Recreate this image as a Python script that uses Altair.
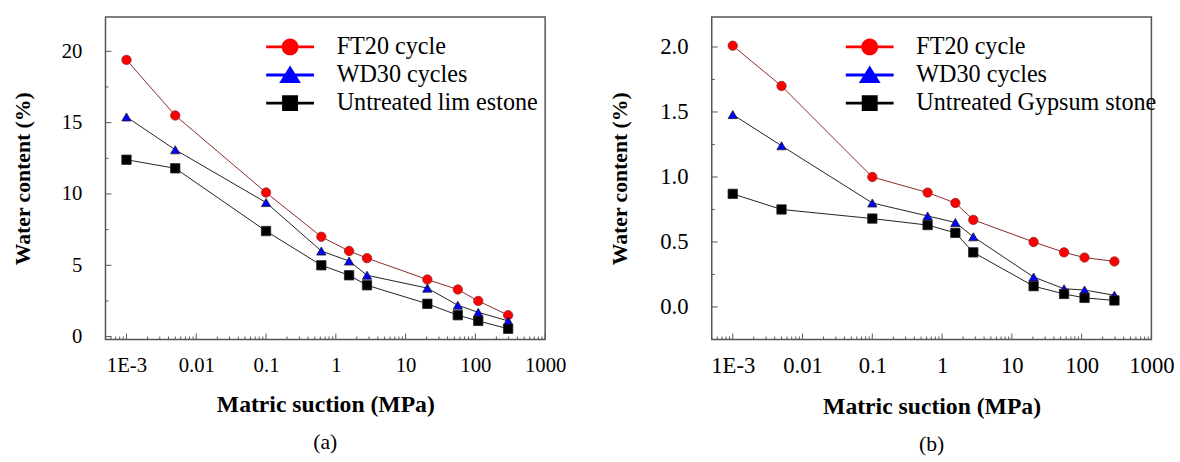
import altair as alt
import pandas as pd

# ---- data ----
SUCTION = [0.001, 0.005, 0.1, 0.62, 1.55, 2.8, 20.5, 56, 110, 295]

LIME_FT = [19.4, 15.5, 10.1, 7.0, 6.0, 5.5, 4.0, 3.3, 2.5, 1.5]
LIME_WD = [15.4, 13.1, 9.4, 6.0, 5.3, 4.3, 3.4, 2.2, 1.7, 1.1]
LIME_UN = [12.4, 11.8, 7.4, 5.0, 4.3, 3.6, 2.3, 1.5, 1.1, 0.55]

GYP_FT = [2.01, 1.70, 1.00, 0.88, 0.80, 0.67, 0.50, 0.42, 0.38, 0.35]
GYP_WD = [1.48, 1.24, 0.80, 0.70, 0.65, 0.54, 0.23, 0.14, 0.13, 0.09]
GYP_UN = [0.87, 0.75, 0.68, 0.63, 0.57, 0.42, 0.16, 0.10, 0.07, 0.05]

LIME_NAMES = ["FT20 cycle", "WD30 cycles", "Untreated lim estone"]
GYP_NAMES = ["FT20 cycle", "WD30 cycles", "Untreated Gypsum stone"]

X_TICKS = [0.001, 0.01, 0.1, 1, 10, 100, 1000]
X_DOMAIN = [5e-4, 1000]
LIME_Y_TICKS = [0, 5, 10, 15, 20]
LIME_Y_MINOR = [2.5, 7.5, 12.5, 17.5]
GYP_Y_TICKS = [0.0, 0.5, 1.0, 1.5, 2.0]
GYP_Y_MINOR = [0.25, 0.75, 1.25, 1.75]

# ---- styles ----
FONT = "Liberation Serif"
LINE_COLORS = ["#8b2a2a", "#222222", "#222222"]
FILL_COLORS = ["#ff0000", "#0000ff", "#000000"]
MARKERS = ["circle", "triangle-up", "square"]
BAR = "M-2.85,-0.17L2.85,-0.17L2.85,0.17L-2.85,0.17Z"
LEGEND_SHAPES = [
    BAR + "M1,0A1,1 0 1,1 -1,0A1,1 0 1,1 1,0Z",
    BAR + "M0,-1.15L1.3,0.95L-1.3,0.95Z",
    BAR + "M-0.95,-0.95L0.95,-0.95L0.95,0.95L-0.95,0.95Z",
]
W, H = 446, 327

minor_x = []
for e in range(-4, 3):
    for m in range(2, 10):
        v = m * 10 ** e
        if X_DOMAIN[0] <= v <= X_DOMAIN[1]:
            minor_x.append(v)


def make_df(names, series):
    rows = []
    for name, vals in zip(names, series):
        for s, w in zip(SUCTION, vals):
            rows.append({"series": name, "suction": s, "water": w})
    return pd.DataFrame(rows)


def panel(names, series, ydomain, ymajor, yminor, yfmt, legend_x, caption, tick_fs, title_pad):
    df = make_df(names, series)
    xs = alt.Scale(type="log", domain=X_DOMAIN, nice=False)
    ys = alt.Scale(domain=ydomain, nice=False, zero=False)
    xaxis = alt.Axis(values=X_TICKS, title="Matric suction (MPa)",
                     labelExpr="datum.value < 0.005 ? '1E-3' : format(datum.value, '~g')",
                     labelPadding=16, titlePadding=17, labelFlush=False,
                     labelFont=FONT, titleFont=FONT, labelFontSize=tick_fs, titleFontSize=24)
    yaxis = alt.Axis(values=ymajor, format=yfmt, title="Water content (%)",
                     labelPadding=24, titlePadding=title_pad, labelFont=FONT, titleFont=FONT,
                     labelFontSize=tick_fs, titleFontSize=22)
    xenc = alt.X("suction:Q", scale=xs, axis=xaxis)
    yenc = alt.Y("water:Q", scale=ys, axis=yaxis)
    base = alt.Chart(df)
    line = base.mark_line(strokeWidth=1).encode(
        x=xenc, y=yenc,
        stroke=alt.Stroke("series:N", scale=alt.Scale(domain=names, range=LINE_COLORS), legend=None),
    )
    pts = base.mark_point(filled=True, size=90, strokeWidth=0.8, opacity=1).encode(
        x=xenc, y=yenc,
        shape=alt.Shape("series:N", scale=alt.Scale(domain=names, range=MARKERS), legend=None),
        fill=alt.Fill("series:N", scale=alt.Scale(domain=names, range=FILL_COLORS), legend=None),
        stroke=alt.Stroke("series:N", scale=alt.Scale(domain=names, range=LINE_COLORS), legend=None),
    )
    leg = alt.Legend(
        title=None, orient="none", legendX=legend_x, legendY=18, padding=0,
        labelFont=FONT, labelFontSize=24.5, labelColor="black", labelLimit=0,
        symbolSize=289, symbolStrokeWidth=0, rowPadding=3.5, labelOffset=35,
    )
    legend_layer = base.mark_point(filled=True, size=289, opacity=1).encode(
        x=xenc, y=yenc,
        shape=alt.Shape("series:N", scale=alt.Scale(domain=names, range=LEGEND_SHAPES), legend=leg),
        fill=alt.Fill("series:N", scale=alt.Scale(domain=names, range=FILL_COLORS), legend=leg),
    ).transform_filter("false")

    ymaj = alt.Chart(pd.DataFrame({"v": ymajor})).mark_rule(color="#555", strokeWidth=1).encode(
        y=alt.Y("v:Q", scale=ys, axis=yaxis), x=alt.value(0), x2=alt.value(6))
    ymin = alt.Chart(pd.DataFrame({"v": yminor})).mark_rule(color="#555", strokeWidth=1).encode(
        y=alt.Y("v:Q", scale=ys, axis=yaxis), x=alt.value(0), x2=alt.value(3))
    xmaj = alt.Chart(pd.DataFrame({"v": X_TICKS})).mark_rule(color="#555", strokeWidth=1).encode(
        x=alt.X("v:Q", scale=xs, axis=xaxis), y=alt.value(H), y2=alt.value(H - 6))
    xmin = alt.Chart(pd.DataFrame({"v": minor_x})).mark_rule(color="#555", strokeWidth=1).encode(
        x=alt.X("v:Q", scale=xs, axis=xaxis), y=alt.value(H), y2=alt.value(H - 3))

    return alt.layer(line, pts, legend_layer, ymaj, ymin, xmaj, xmin).resolve_scale(
        shape="independent", fill="independent"
    ).properties(
        width=W, height=H,
        title=alt.TitleParams(caption, orient="bottom", font=FONT, fontSize=22,
                              fontWeight="normal", color="black", offset=16),
    )


pa = panel(LIME_NAMES, [LIME_FT, LIME_WD, LIME_UN], [-0.2, 22.4],
           LIME_Y_TICKS, LIME_Y_MINOR, "d", 175, "(a)", 21, 27)
pb = panel(GYP_NAMES, [GYP_FT, GYP_WD, GYP_UN], [-0.25, 2.23],
           GYP_Y_TICKS, GYP_Y_MINOR, ".1f", 148, "(b)", 23, 29)

chart = alt.hconcat(pa, pb, spacing=41).resolve_scale(
    stroke="independent", fill="independent", shape="independent"
).properties(
    padding={"left": 11, "top": 13, "right": 5, "bottom": 5},
    background="white",
).configure(
    font=FONT
).configure_view(
    stroke="#555", strokeWidth=1.5
).configure_axis(
    domain=False, ticks=False, grid=False,
    labelFont=FONT, labelColor="black",
    titleFont=FONT, titleFontWeight="bold", titleColor="black",
)

chart.save("out.html", embed_options={"renderer": "svg", "actions": False})
